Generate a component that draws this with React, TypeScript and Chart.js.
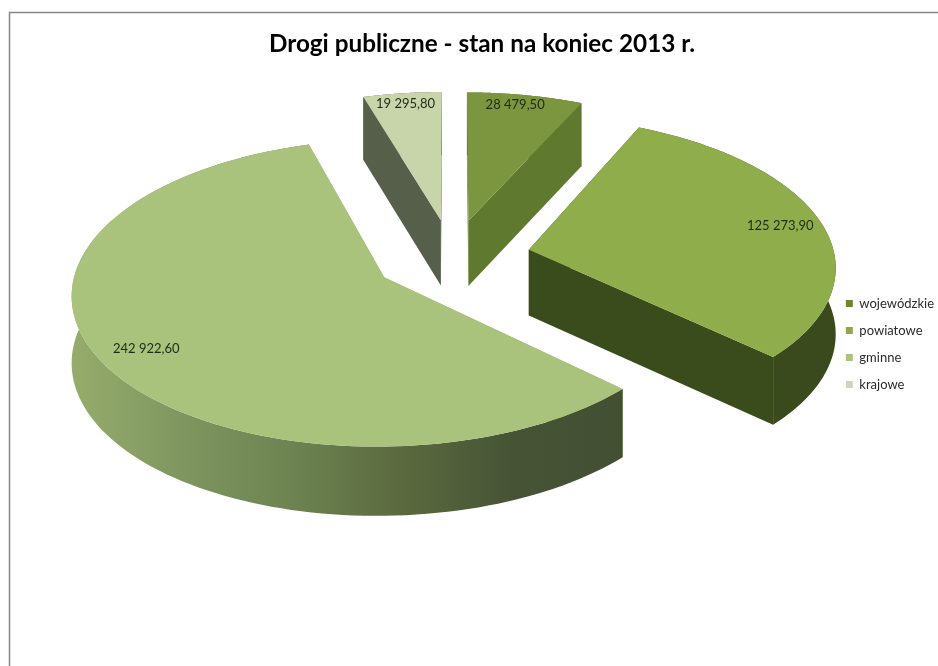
import React, { useEffect, useRef } from "react";
import { Chart, registerables } from "chart.js";

Chart.register(...registerables);

const titleText = "Drogi publiczne - stan na koniec 2013 r.";
const categories = ["wojewódzkie", "powiatowe", "gminne", "krajowe"];
const values = [28479.5, 125273.9, 242922.6, 19295.8];
const topColors = ["#7c963f", "#8fae4b", "#a9c27c", "#c8d5ab"];
const legendColors = ["#6d8632", "#8cab48", "#aac47b", "#cdd6bd"];
const cutColors = ["#5f792e", "#3b4c1c", "#a9c27c", "#565f4a"];
const wallStops: string[][] = [
  ["#5f792e", "#5f792e"],
  ["#3b4c1c", "#3a4a1c"],
  ["#96ac6c", "#7f9660", "#6d8351", "#5a6a3e", "#465435", "#434f33"],
  ["#565f4a", "#565f4a"],
];
const labelRadii = [0.91, 0.86, 0.85, 0.91];
const labelFractions = [0.45, 0.5, 0.5, 0.5];
const drawOrder = [3, 0, 1, 2];

const view = { cx: 452, cy: 257, rx: 306, ry: 148, persp: 0.1, depth: 66 };

const fmt = (v: number) => {
  const [a, b] = v.toFixed(2).split(".");
  return a.replace(/\B(?=(\d{3})+$)/g, " ") + "," + b;
};

function project(X: number, Y: number) {
  const s = 1 / (1 - view.persp * Y);
  return { x: view.cx + X * s * view.rx, y: view.cy + Y * s * view.ry, s };
}

const pie3d = {
  id: "pie3d",
  beforeDraw(chart: any) {
    const { ctx } = chart;
    ctx.save();
    ctx.fillStyle = "#ffffff";
    ctx.fillRect(0, 0, chart.width, chart.height);
    ctx.strokeStyle = "#868686";
    ctx.lineWidth = 1.5;
    ctx.beginPath();
    ctx.moveTo(9.5, chart.height);
    ctx.lineTo(9.5, 12.5);
    ctx.lineTo(chart.width, 12.5);
    ctx.stroke();
    ctx.restore();
  },
  beforeDatasetDraw() {
    return false;
  },
  afterDatasetsDraw(chart: any) {
    const { ctx } = chart;
    const arcs = chart.getDatasetMeta(0).data;
    ctx.save();
    const labels: any[] = [];
    for (const i of drawOrder) {
      const el = arcs[i];
      const start = el.startAngle + Math.PI / 2;
      const end = el.endAngle + Math.PI / 2;
      const mid = (start + end) / 2;
      const e = el.options.offset / el.outerRadius;
      const ox = e * Math.sin(mid);
      const oy = -e * Math.cos(mid);
      const apex = project(ox, oy);
      const steps = 120;
      const rim: any[] = [];
      for (let k = 0; k <= steps; k++) {
        const t = start + ((end - start) * k) / steps;
        rim.push(project(ox + Math.sin(t), oy - Math.cos(t)));
      }
      const drop = (p: any) => view.depth * Math.pow(p.s, 0.4);
      const first = rim[0];
      const last = rim[steps];
      // cut faces
      ctx.fillStyle = cutColors[i];
      for (const p of [first, last]) {
        ctx.beginPath();
        ctx.moveTo(apex.x, apex.y);
        ctx.lineTo(p.x, p.y);
        ctx.lineTo(p.x, p.y + drop(p));
        ctx.lineTo(apex.x, apex.y + drop(apex));
        ctx.closePath();
        ctx.fill();
      }
      // outer wall
      const xs = rim.map((p) => p.x);
      const x0 = Math.min(...xs);
      const x1 = Math.max(...xs);
      const grad = ctx.createLinearGradient(x0, 0, x1, 0);
      wallStops[i].forEach((c, k) => grad.addColorStop(k / (wallStops[i].length - 1), c));
      ctx.fillStyle = grad;
      ctx.beginPath();
      rim.forEach((p, k) => (k ? ctx.lineTo(p.x, p.y) : ctx.moveTo(p.x, p.y)));
      for (let k = steps; k >= 0; k--) ctx.lineTo(rim[k].x, rim[k].y + drop(rim[k]));
      ctx.closePath();
      ctx.fill();
      // top face
      ctx.fillStyle = topColors[i];
      ctx.beginPath();
      ctx.moveTo(apex.x, apex.y);
      rim.forEach((p) => ctx.lineTo(p.x, p.y));
      ctx.closePath();
      ctx.fill();
      const r = labelRadii[i];
      const la = start + (end - start) * labelFractions[i];
      const lp = project(ox + r * Math.sin(la), oy - r * Math.cos(la));
      labels.push({ x: lp.x, y: lp.y, text: fmt(values[i]) });
    }
    ctx.fillStyle = "#1e2b14";
    ctx.font = "13px Lato";
    ctx.textAlign = "center";
    ctx.textBaseline = "middle";
    labels.forEach((l) => ctx.fillText(l.text, l.x, l.y));
    ctx.restore();
  },
};

export default function App() {
  const ref = useRef<HTMLCanvasElement>(null);
  useEffect(() => {
    const chart = new Chart(ref.current as HTMLCanvasElement, {
      type: "pie",
      data: {
        labels: categories,
        datasets: [{ data: values, backgroundColor: legendColors, borderWidth: 0, offset: 68 }],
      },
      options: {
        animation: false,
        responsive: false,
        layout: { padding: { left: 20, right: -6, top: 22, bottom: 0 } },
        plugins: {
          title: {
            display: true,
            text: titleText,
            color: "#000000",
            font: { family: "Lato", size: 24.3, weight: "bold" },
            padding: { top: 8, bottom: 10 },
          },
          legend: {
            position: "right",
            labels: {
              boxWidth: 7,
              boxHeight: 7,
              padding: 14,
              color: "#2b2b2b",
              font: { family: "Lato", size: 13 },
            },
          },
          tooltip: { enabled: false },
        },
      },
      plugins: [pie3d],
    } as any);
    return () => chart.destroy();
  }, []);
  return (
    <canvas
      ref={ref}
      width={938}
      height={666}
      style={{ position: "fixed", left: 0, top: 0, width: 938, height: 666 }}
    />
  );
}
